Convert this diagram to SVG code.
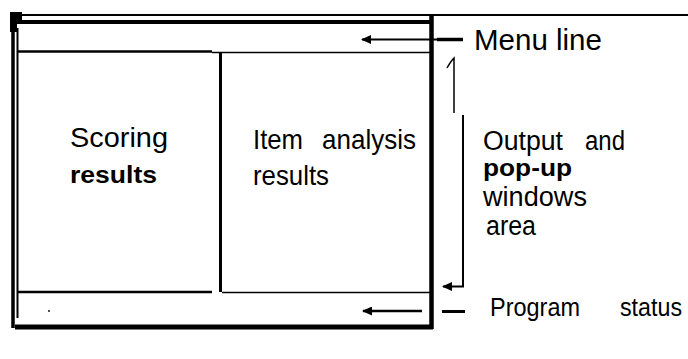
<svg xmlns="http://www.w3.org/2000/svg" width="688" height="359" viewBox="0 0 688 359">
<style>
.ln{stroke:#000;fill:none;stroke-linecap:butt}
.t{font-family:"Liberation Sans",Arial,sans-serif;fill:#000}
</style>
<defs>
<marker id="ah" markerUnits="userSpaceOnUse" markerWidth="10" markerHeight="9" refX="9" refY="4.5" orient="auto">
<path d="M0,0 L10,4.5 L0,9 Z" fill="#000"/>
</marker>
</defs>
<rect width="688" height="359" fill="#fff"/>
<g id="screen-frame">
<line class="ln" x1="10" y1="15" x2="688" y2="15" stroke-width="2"/>
<line class="ln" x1="15" y1="22" x2="431" y2="22" stroke-width="4"/>
<rect x="10" y="12" width="12" height="8" fill="#000"/>
<rect x="10" y="12" width="7" height="20" fill="#000"/>
<line class="ln" x1="13" y1="14" x2="13" y2="328" stroke-width="3.5"/>
<line class="ln" x1="17.5" y1="28" x2="17.5" y2="318" stroke-width="2"/>
<line class="ln" x1="431.5" y1="14" x2="431.5" y2="329" stroke-width="4.5"/>
<line class="ln" x1="15" y1="327" x2="433" y2="327" stroke-width="5"/>
<circle cx="49" cy="311" r="0.9" fill="#000"/>
</g>
<g id="menu-area">
<line class="ln" x1="18" y1="51.5" x2="212" y2="51.5" stroke-width="2.5"/>
<line class="ln" x1="212" y1="52.5" x2="431" y2="52.5" stroke-width="1.5"/>
</g>
<g id="scoring-results">
<line class="ln" x1="220.5" y1="52" x2="220.5" y2="292" stroke-width="3"/>
<text class="t" x="70" y="147" font-size="27" textLength="98" lengthAdjust="spacingAndGlyphs">Scoring</text>
<text class="t" x="70" y="183" font-size="24" font-weight="bold" textLength="87" lengthAdjust="spacingAndGlyphs">results</text>
</g>
<g id="item-analysis">
<text class="t" x="253" y="149" font-size="28" textLength="50" lengthAdjust="spacingAndGlyphs">Item</text>
<text class="t" x="322" y="149" font-size="28" textLength="94" lengthAdjust="spacingAndGlyphs">analysis</text>
<text class="t" x="253" y="185" font-size="28" textLength="76" lengthAdjust="spacingAndGlyphs">results</text>
</g>
<g id="status-area">
<line class="ln" x1="18" y1="292" x2="212" y2="292" stroke-width="2.5"/>
<line class="ln" x1="222" y1="292.5" x2="431" y2="292.5" stroke-width="1.5"/>
</g>
<g id="connectors">
<line class="ln" x1="463" y1="39.5" x2="362" y2="39.5" stroke-width="2" marker-end="url(#ah)"/>
<line class="ln" x1="437" y1="39.5" x2="463" y2="39.5" stroke-width="3.5"/>
<path class="ln" d="M447,68 Q451,61 454,58 L454,113" stroke-width="1.5"/>
<path class="ln" d="M463,115 L463,286.5 L443,286.5" stroke-width="2" marker-end="url(#ah)"/>
<line class="ln" x1="422" y1="311" x2="363" y2="311" stroke-width="2.5" marker-end="url(#ah)"/>
<line class="ln" x1="442" y1="311.5" x2="465" y2="311.5" stroke-width="3"/>
</g>
<g id="labels">
<text class="t" x="474" y="50" font-size="29.5">Menu line</text>
<text class="t" x="483" y="150" font-size="27" textLength="80" lengthAdjust="spacingAndGlyphs">Output</text>
<text class="t" x="585" y="150" font-size="27" textLength="40" lengthAdjust="spacingAndGlyphs">and</text>
<text class="t" x="483" y="176" font-size="24" font-weight="bold" textLength="89" lengthAdjust="spacingAndGlyphs">pop-up</text>
<text class="t" x="483" y="206" font-size="27" textLength="104" lengthAdjust="spacingAndGlyphs">windows</text>
<text class="t" x="486" y="235" font-size="27" textLength="50" lengthAdjust="spacingAndGlyphs">area</text>
<text class="t" x="490" y="316" font-size="26" textLength="90" lengthAdjust="spacingAndGlyphs">Program</text>
<text class="t" x="620" y="316" font-size="25" textLength="62" lengthAdjust="spacingAndGlyphs">status</text>
</g>
</svg>
